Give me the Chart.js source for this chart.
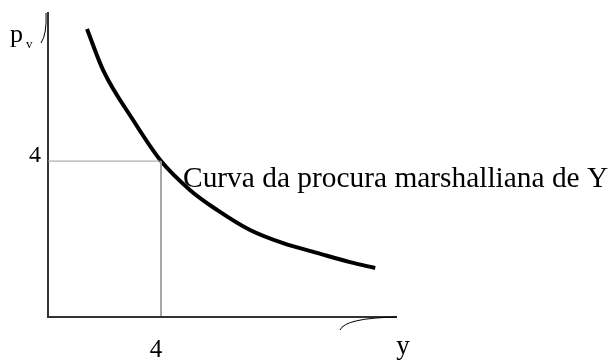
<!DOCTYPE html>
<html>
<head>
<meta charset="utf-8">
<script src="https://cdn.jsdelivr.net/npm/chart.js@4/dist/chart.umd.min.js"></script>
<style>
    html, body { margin: 0; padding: 0; background: #fff; }
    #demand-chart { display: block; }
</style>
</head>
<body>
<canvas id="demand-chart" width="609" height="360"></canvas>
<script>
// Marshallian demand curve for good Y (quantity y, price p_v)
const quantityY = [1.38, 1.95, 3.01, 4.0, 5.03, 5.98, 7.15, 8.32, 9.52, 10.69, 11.58];
const priceY = [7.41, 6.35, 5.06, 4.0, 3.25, 2.74, 2.22, 1.88, 1.63, 1.39, 1.24];

// the marked point on the curve and its tick labels
const markedPoint = { y: 4, p: 4 };
const tickLabels = ["4", "4"];
const axisTitles = { x: "y", y: "p", ySub: "v" };
const curveLabel = "Curva da procura marshalliana de Y";

const axisMax = { x: 12.35, y: 7.85 };

const demandPoints = quantityY.map((q, i) => ({ x: q, y: priceY[i] }));
const guidePoints = [
    { x: 0, y: markedPoint.p },
    { x: markedPoint.y, y: markedPoint.p },
    { x: markedPoint.y, y: 0 },
];

const serif = '"Liberation Serif", "Times New Roman", serif';

const decorations = {
    id: "decorations",
    beforeDatasetsDraw(chart) {
        const { ctx, chartArea } = chart;
        const { left, right, top, bottom } = chartArea;
        ctx.save();
        ctx.lineCap = "butt";

        // y axis
        ctx.strokeStyle = "#000";
        ctx.lineWidth = 1.6;
        ctx.beginPath();
        ctx.moveTo(left, top);
        ctx.lineTo(left, bottom + 1);
        ctx.stroke();

        // x axis
        ctx.strokeStyle = "#333";
        ctx.lineWidth = 2;
        ctx.beginPath();
        ctx.moveTo(left - 1, bottom + 1);
        ctx.lineTo(right, bottom + 1);
        ctx.stroke();

        // little hooks at the axis ends
        ctx.strokeStyle = "#000";
        ctx.lineWidth = 1;
        ctx.beginPath();
        ctx.moveTo(left - 2, top + 1);
        ctx.quadraticCurveTo(left - 1, top + 22, left - 7, top + 31);
        ctx.stroke();
        ctx.beginPath();
        ctx.moveTo(right, bottom + 1);
        ctx.quadraticCurveTo(right - 52, bottom + 2, right - 57, bottom + 14);
        ctx.stroke();
        ctx.restore();
    },
    afterDatasetsDraw(chart) {
        const { ctx, scales } = chart;
        const { left, top, bottom, right } = chart.chartArea;
        const px = scales.x.getPixelForValue(markedPoint.y);
        const py = scales.y.getPixelForValue(markedPoint.p);
        ctx.save();
        ctx.fillStyle = "#000";
        ctx.textBaseline = "alphabetic";

        // tick labels
        ctx.font = "24px " + serif;
        ctx.textAlign = "right";
        ctx.fillText(tickLabels[1], left - 7, py + 1);
        ctx.font = "25px " + serif;
        ctx.textAlign = "center";
        ctx.fillText(tickLabels[0], px - 5, bottom + 41);

        // axis titles
        ctx.font = "27px " + serif;
        ctx.fillText(axisTitles.x, right + 6, bottom + 38);
        ctx.textAlign = "left";
        ctx.font = "26px " + serif;
        ctx.fillText(axisTitles.y, 10, top + 30);
        ctx.font = "13px " + serif;
        ctx.fillText(axisTitles.ySub, 26, top + 36);

        // curve label
        ctx.font = "29.4px " + serif;
        ctx.fillText(curveLabel, px + 22, py + 26);
        ctx.restore();
    },
};

new Chart(document.getElementById("demand-chart"), {
    type: "line",
    data: {
        datasets: [
            {
                data: guidePoints,
                borderColor: "#9a9a9a",
                borderWidth: 1,
                pointRadius: 0,
                tension: 0,
            },
            {
                data: demandPoints,
                borderColor: "#000",
                borderWidth: 4,
                pointRadius: 0,
                cubicInterpolationMode: "monotone",
                clip: false,
            },
        ],
    },
    options: {
        responsive: false,
        animation: false,
        layout: {
            padding: { left: 48, right: 212, top: 12, bottom: 44 },
        },
        plugins: {
            legend: { display: false },
            tooltip: { enabled: false },
        },
        scales: {
            x: { type: "linear", min: 0, max: axisMax.x, display: false },
            y: { type: "linear", min: 0, max: axisMax.y, display: false },
        },
    },
    plugins: [decorations],
});
</script>
</body>
</html>
